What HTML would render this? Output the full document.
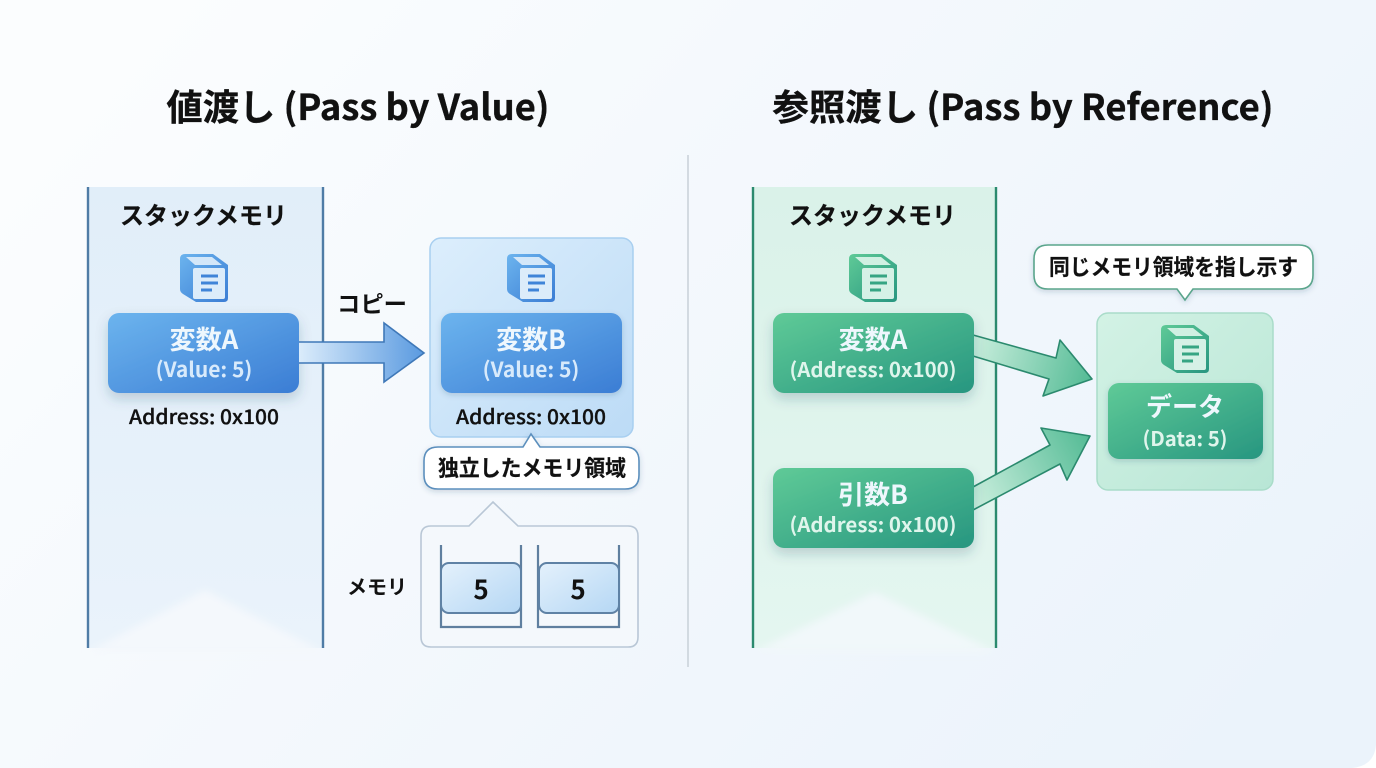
<!DOCTYPE html>
<html lang="ja"><head><meta charset="utf-8"><style>
html,body{margin:0;padding:0;width:1376px;height:768px;overflow:hidden;background:#fff}
svg{display:block}
text{font-family:"Noto Sans CJK JP","Liberation Sans",sans-serif;text-anchor:middle}
.t{font-size:36px;font-weight:700;fill:#111;stroke:#111;stroke-width:.35px}
.h{font-size:24px;font-weight:700;fill:#111;stroke:#111;stroke-width:.2px}
.n{font-size:26px;font-weight:700;fill:#eef7fd}
.s{font-size:21px;font-weight:700;fill:#d8eafb}
.sg{font-size:20px;font-weight:700;fill:#dff5ec}
.a{font-size:20px;font-weight:500;fill:#111;stroke:#111;stroke-width:.3px}
.c{font-size:22px;font-weight:700;fill:#111;stroke:#111;stroke-width:.2px}
</style></head><body>
<svg width="1376" height="768" viewBox="0 0 1376 768" xmlns="http://www.w3.org/2000/svg">
<defs>
<linearGradient id="bg" x1="0" y1="0.25" x2="1" y2="0.75"><stop offset="0" stop-color="#fbfdfe"/><stop offset="0.35" stop-color="#f5f9fd"/><stop offset="1" stop-color="#ebf3fb"/></linearGradient>
<linearGradient id="bs" x1="0" y1="0" x2="0" y2="1"><stop offset="0" stop-color="#e1eef9"/><stop offset="1" stop-color="#eaf3fb"/></linearGradient>
<linearGradient id="gs" x1="0" y1="0" x2="0" y2="1"><stop offset="0" stop-color="#daf2e9"/><stop offset="1" stop-color="#e4f6f0"/></linearGradient>
<linearGradient id="bn" x1="0" y1="0" x2="1" y2="1"><stop offset="0" stop-color="#6cb4ee"/><stop offset="1" stop-color="#3b7dd4"/></linearGradient>
<linearGradient id="gn" x1="0" y1="0" x2="1" y2="1"><stop offset="0" stop-color="#5fca97"/><stop offset="1" stop-color="#279680"/></linearGradient>
<linearGradient id="ba" x1="0" y1="0" x2="1" y2="0"><stop offset="0" stop-color="#dbecfb"/><stop offset="1" stop-color="#5a9ae0"/></linearGradient>
<linearGradient id="ga1" gradientUnits="userSpaceOnUse" x1="973" y1="345" x2="1092" y2="379"><stop offset="0" stop-color="#c9eedd"/><stop offset="1" stop-color="#54bb95"/></linearGradient>
<linearGradient id="ga2" gradientUnits="userSpaceOnUse" x1="973" y1="498" x2="1090" y2="436"><stop offset="0" stop-color="#c9eedd"/><stop offset="1" stop-color="#54bb95"/></linearGradient>
<linearGradient id="bc" x1="0" y1="0" x2="1" y2="1"><stop offset="0" stop-color="#dceefc"/><stop offset="1" stop-color="#bcdbf6"/></linearGradient>
<linearGradient id="gc" x1="0" y1="0" x2="1" y2="1"><stop offset="0" stop-color="#d3f2e5"/><stop offset="1" stop-color="#b8e6d5"/></linearGradient>
<linearGradient id="cell" x1="0" y1="0" x2="1" y2="1"><stop offset="0" stop-color="#e4f1fc"/><stop offset="1" stop-color="#b5d7f4"/></linearGradient>
<linearGradient id="ib" x1="0" y1="0" x2="1" y2="1"><stop offset="0" stop-color="#6cb4ee"/><stop offset="1" stop-color="#3b7dd4"/></linearGradient>
<linearGradient id="ig" x1="0" y1="0" x2="1" y2="1"><stop offset="0" stop-color="#5fca97"/><stop offset="1" stop-color="#279680"/></linearGradient>
<filter id="sh" x="-20%" y="-20%" width="140%" height="150%"><feDropShadow dx="0" dy="6" stdDeviation="6" flood-color="#2c4a66" flood-opacity="0.22"/></filter>
<filter id="sl" x="-10%" y="-20%" width="120%" height="150%"><feDropShadow dx="0" dy="2" stdDeviation="3" flood-color="#2c4a66" flood-opacity="0.2"/></filter>
<filter id="bl" x="-10%" y="-30%" width="120%" height="160%"><feGaussianBlur stdDeviation="4"/></filter>
<symbol id="ibx" viewBox="0 0 48 48"><path d="M5 0H33L48 11V44Q48 48 44 48H16L3 40Q0 38 0 35V5Q0 0 5 0Z" fill="url(#ib)"/><path d="M6 3H32L42 11H15Z" fill="#d3e7f9"/><rect x="13" y="14" width="32" height="31" rx="2" fill="#dcecfa"/><path d="M21 22H38M21 29H38M21 36H32" stroke="#3f84d8" stroke-width="3" fill="none"/></symbol>
<symbol id="igx" viewBox="0 0 48 48"><path d="M5 0H33L48 11V44Q48 48 44 48H16L3 40Q0 38 0 35V5Q0 0 5 0Z" fill="url(#ig)"/><path d="M6 3H32L42 11H15Z" fill="#d0f0e2"/><rect x="13" y="14" width="32" height="31" rx="2" fill="#d5f1e6"/><path d="M21 22H38M21 29H38M21 36H32" stroke="#35a583" stroke-width="3" fill="none"/></symbol>
</defs>
<rect width="1376" height="768" fill="url(#bg)"/>
<path d="M1376 745Q1374 766 1352 768H1376Z" fill="#fff"/>

<text class="t" x="358" y="120" textLength="383" lengthAdjust="spacingAndGlyphs">値渡し (Pass by Value)</text>
<text class="t" x="1023" y="120" textLength="501" lengthAdjust="spacingAndGlyphs">参照渡し (Pass by Reference)</text>
<line x1="688" y1="155" x2="688" y2="667" stroke="#c8d0d8" stroke-width="1.5"/>

<!-- left stack -->
<rect x="88" y="187" width="235" height="461" fill="url(#bs)"/>
<path d="M88 652L205 590L323 652Z" fill="#f4f8fc" filter="url(#bl)"/>
<path d="M88 187V648M323 187V648" stroke="#4f7ca6" stroke-width="2.4"/>
<text class="h" x="203.500" y="224" textLength="167" lengthAdjust="spacingAndGlyphs">スタックメモリ</text>
<use href="#ibx" x="180" y="254" width="48" height="48"/>
<rect x="108" y="313" width="191" height="80" rx="11" fill="url(#bn)" filter="url(#sh)"/>
<text class="n" x="204" y="349">変数A</text>
<text class="s" x="204" y="377">(Value: 5)</text>
<text class="a" x="204" y="424" textLength="150" lengthAdjust="spacingAndGlyphs">Address: 0x100</text>

<!-- copy arrow -->
<text x="372" y="312" style="font-size:23px;font-weight:700;fill:#111" textLength="70" lengthAdjust="spacingAndGlyphs">コピー</text>
<path d="M299 342H384V323L424 353L384 382V363H299" fill="url(#ba)" stroke="#3f78b8" stroke-width="1.6"/>

<!-- var B -->
<rect x="430" y="238" width="203" height="199" rx="11" fill="url(#bc)" stroke="#a8cff0" stroke-width="1.5"/>
<use href="#ibx" x="507" y="254" width="48" height="48"/>
<rect x="441" y="313" width="181" height="80" rx="11" fill="url(#bn)" filter="url(#sl)"/>
<text class="n" x="531" y="349">変数B</text>
<text class="s" x="531" y="377">(Value: 5)</text>
<text class="a" x="531" y="424" textLength="150" lengthAdjust="spacingAndGlyphs">Address: 0x100</text>

<path d="M438 447H523L531 434L540 447H625Q639 447 639 461V475Q639 489 625 489H438Q424 489 424 475V461Q424 447 438 447Z" fill="#fff" stroke="#5b8fbd" stroke-width="1.6" filter="url(#sl)"/>
<text class="c" x="532" y="476" textLength="188" lengthAdjust="spacingAndGlyphs">独立したメモリ領域</text>

<!-- memory -->
<path d="M431 526H469L493 502L518 526H628Q638 526 638 536V637Q638 647 628 647H431Q421 647 421 637V536Q421 526 431 526Z" fill="#f4f8fc" stroke="#b9c7d6" stroke-width="1.6"/>
<text x="377" y="594" style="font-size:20px;font-weight:700;fill:#111" textLength="60" lengthAdjust="spacingAndGlyphs">メモリ</text>
<path d="M441 545V627H521V545M538 545V627H619V545" fill="none" stroke="#5f7f9f" stroke-width="2.2"/>
<rect x="441" y="563" width="80" height="50" rx="8" fill="url(#cell)" stroke="#5f82a5" stroke-width="2"/>
<rect x="539" y="563" width="80" height="50" rx="8" fill="url(#cell)" stroke="#5f82a5" stroke-width="2"/>
<text x="481" y="599" style="font-size:26px;font-weight:700;fill:#111">5</text>
<text x="578" y="599" style="font-size:26px;font-weight:700;fill:#111">5</text>

<!-- right stack -->
<rect x="753" y="187" width="243" height="461" fill="url(#gs)"/>
<path d="M753 652L875 592L996 652Z" fill="#f1f8fa" filter="url(#bl)"/>
<path d="M753 187V648M996 187V648" stroke="#2b8a6e" stroke-width="2.4"/>
<text class="h" x="872.500" y="224" textLength="167" lengthAdjust="spacingAndGlyphs">スタックメモリ</text>
<use href="#igx" x="849" y="254" width="48" height="48"/>

<path d="M973 335L1056 358L1060 340L1092 379L1043 396L1049 379L973 356Z" fill="url(#ga1)" stroke="#2b8a6e" stroke-width="1.6" stroke-linejoin="round"/>
<path d="M973 487L1050 445L1041 428L1090 436L1067 480L1060 464L973 510Z" fill="url(#ga2)" stroke="#2b8a6e" stroke-width="1.6" stroke-linejoin="round"/>

<rect x="773" y="313" width="201" height="80" rx="11" fill="url(#gn)" filter="url(#sh)"/>
<text class="n" x="873" y="349">変数A</text>
<text class="sg" x="873" y="377" textLength="167" lengthAdjust="spacingAndGlyphs">(Address: 0x100)</text>
<rect x="773" y="468" width="201" height="80" rx="11" fill="url(#gn)" filter="url(#sh)"/>
<text class="n" x="873" y="504">引数B</text>
<text class="sg" x="873" y="532" textLength="167" lengthAdjust="spacingAndGlyphs">(Address: 0x100)</text>

<!-- data -->
<rect x="1097" y="313" width="176" height="177" rx="11" fill="url(#gc)" stroke="#a9dcc9" stroke-width="1.5"/>
<use href="#igx" x="1161" y="325" width="48" height="48"/>
<rect x="1108" y="383" width="155" height="76" rx="11" fill="url(#gn)" filter="url(#sl)"/>
<text class="n" x="1185" y="416">データ</text>
<text class="sg" x="1185" y="446" textLength="85" lengthAdjust="spacingAndGlyphs">(Data: 5)</text>

<path d="M1048 245H1299Q1313 245 1313 259V275Q1313 289 1299 289H1193L1185 300L1177 289H1048Q1034 289 1034 275V259Q1034 245 1048 245Z" fill="#fff" stroke="#5aa58c" stroke-width="1.6" filter="url(#sl)"/>
<text class="c" x="1173.500" y="275" textLength="249" lengthAdjust="spacingAndGlyphs">同じメモリ領域を指し示す</text>
</svg>
</body></html>
